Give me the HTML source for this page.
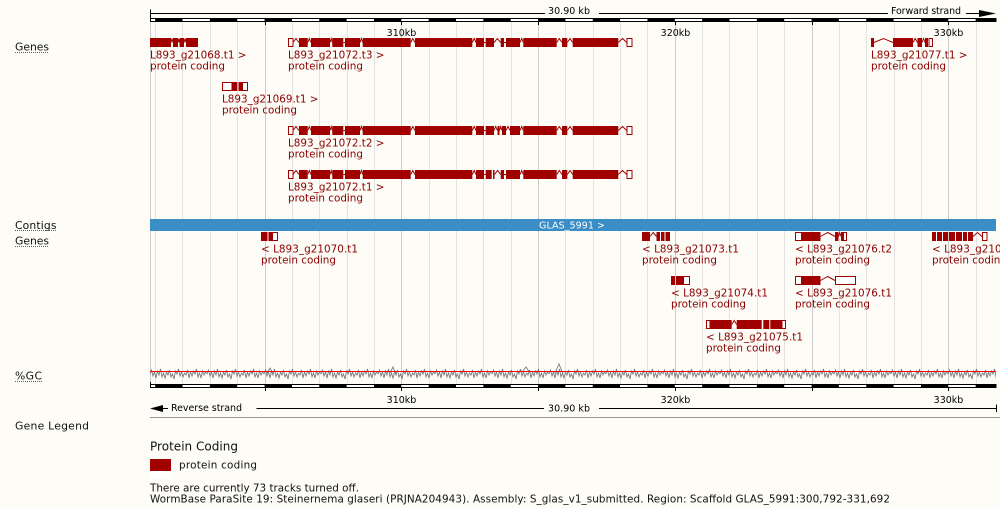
<!DOCTYPE html>
<html>
<head>
<meta charset="utf-8">
<style>
html,body{margin:0;padding:0;background:#fdfcf7;width:1000px;height:508px;overflow:hidden}
svg{display:block}
.lbl{font-family:"DejaVu Sans","Liberation Sans",sans-serif;font-size:10.8px;fill:#111}
.ru{font-family:"DejaVu Sans","Liberation Sans",sans-serif;font-size:9.5px;fill:#000}
.gl{font-family:"DejaVu Sans","Liberation Sans",sans-serif;font-size:10.4px;fill:#8a0000}
.tx{font-family:"DejaVu Sans","Liberation Sans",sans-serif;font-size:10.4px;fill:#111}
</style>
</head>
<body>
<svg width="1000" height="508" viewBox="0 0 1000 508" xmlns="http://www.w3.org/2000/svg">
<defs>
<pattern id="gc" patternUnits="userSpaceOnUse" x="150" y="362" width="57" height="20">
<polyline points="0,12 1.5,8 3,14 4.5,10 6,16 7.5,9 9,13 10.5,7 12,15 13.5,11 15,16 16.5,10 18,13 19.5,8 21,15 22.5,12 24,17 25.5,9 27,12 28.5,7 30,14 31.5,10 33,15 34.5,11 36,13 37.5,8 39,16 40.5,10 42,14 43.5,9 45,12 46.5,7 48,15 49.5,11 51,16 52.5,9 54,13 55.5,10 57,12" fill="none" stroke="#7a7a7a" stroke-width="0.9"/>
</pattern>
</defs>
<rect x="0" y="0" width="1000" height="508" fill="#fdfcf7"/>

<!-- gridlines -->
<path d="M155.5,22V384M182.5,22V384M210.5,22V384M237.5,22V384M292.5,22V384M319.5,22V384M347.5,22V384M374.5,22V384M429.5,22V384M456.5,22V384M483.5,22V384M511.5,22V384M565.5,22V384M593.5,22V384M620.5,22V384M647.5,22V384M702.5,22V384M729.5,22V384M757.5,22V384M784.5,22V384M839.5,22V384M866.5,22V384M894.5,22V384M921.5,22V384M976.5,22V384" stroke="#e3e3e3" stroke-width="1" fill="none"/>
<path d="M150.5,22V384M265.5,22V384M401.5,22V384M538.5,22V384M675.5,22V384M812.5,22V384M948.5,22V384" stroke="#cbcbcb" stroke-width="1" fill="none"/>

<!-- top scale -->
<g stroke="#000" stroke-width="1" fill="none">
<path d="M150,13.5H545M599,13.5H888M966,13.5H980"/>
<path d="M150.5,9.5V22"/>
</g>
<polygon points="979,10 996,13.5 979,17" fill="#000"/>
<text class="ru" x="548" y="14" textLength="42">30.90 kb</text>
<text class="ru" x="891" y="14" textLength="70">Forward strand</text>

<!-- top ruler band -->
<rect x="150.5" y="18.5" width="845.5" height="3" fill="#fff" stroke="#000" stroke-width="1"/>
<g fill="#000">
<rect x="155.15" y="18" width="27.35" height="4"/>
<rect x="209.85" y="18" width="27.35" height="4"/>
<rect x="264.55" y="18" width="27.35" height="4"/>
<rect x="319.25" y="18" width="27.35" height="4"/>
<rect x="373.95" y="18" width="27.35" height="4"/>
<rect x="428.65" y="18" width="27.35" height="4"/>
<rect x="483.35" y="18" width="27.35" height="4"/>
<rect x="538.05" y="18" width="27.35" height="4"/>
<rect x="592.75" y="18" width="27.35" height="4"/>
<rect x="647.45" y="18" width="27.35" height="4"/>
<rect x="702.15" y="18" width="27.35" height="4"/>
<rect x="756.85" y="18" width="27.35" height="4"/>
<rect x="811.55" y="18" width="27.35" height="4"/>
<rect x="866.25" y="18" width="27.35" height="4"/>
<rect x="920.95" y="18" width="27.35" height="4"/>
<rect x="975.65" y="18" width="20.35" height="4"/>
</g>
<path d="M265.5,22V25M401.5,22V25M538.5,22V25M675.5,22V25M812.5,22V25M948.5,22V25" stroke="#000"/>
<text class="ru" x="401.5" y="36" text-anchor="middle">310kb</text>
<text class="ru" x="675.5" y="36" text-anchor="middle">320kb</text>
<text class="ru" x="948.5" y="36" text-anchor="middle">330kb</text>

<!-- left labels -->
<text class="lbl" x="15" y="50.6" textLength="34">Genes</text>
<text class="lbl" x="15" y="228.9" textLength="41.5">Contigs</text>
<text class="lbl" x="15" y="244.6" textLength="34">Genes</text>
<text class="lbl" x="15" y="379.5" textLength="27">%GC</text>
<text class="lbl" x="15" y="429.6" textLength="74">Gene Legend</text>
<path d="M15,52.5H49M15,230.5H57M15,246.5H49M15,381.5H42" stroke="#3366bb" stroke-width="1" stroke-dasharray="1,1" fill="none"/>

<!-- forward genes -->
<g fill="#a00000">
<rect x="150" y="38" width="21" height="9"/>
<rect x="173" y="38" width="5" height="9"/>
<rect x="179.5" y="38" width="4.5" height="9"/>
<rect x="186" y="38" width="12" height="9"/>
<rect x="871" y="38" width="3" height="9"/>
<rect x="893" y="38" width="20" height="9"/>
<rect x="917.5" y="38" width="4.5" height="9"/>
<rect x="925" y="38" width="3" height="9"/>
<rect x="232.3" y="82" width="5" height="9"/>
<rect x="238.5" y="82" width="3.7" height="9"/>
</g>
<g fill="#fff" stroke="#a00000" stroke-width="1">
<rect x="929" y="38.5" width="3.5" height="8"/>
<rect x="222.5" y="82.5" width="9.5" height="8"/>
<rect x="242.5" y="82.5" width="5" height="8"/>
</g>
<path d="M171,42.5L172,38.5L173,42.5M178,42.5L178.7,39L179.5,42.5M184,42.5L185,38.5L186,42.5M874,42.5L883.5,38.5L893,42.5M913,42.5L915.2,38.5L917.5,42.5M922,42.5L923.5,38.5L925,42.5" stroke="#a00000" stroke-width="1" fill="none"/>

<!-- g21072 transcripts -->
<g>
<g fill="#a00000">
<rect x="299" y="38" width="8.7" height="9"/>
<rect x="311" y="38" width="19" height="9"/>
<rect x="332.3" y="38" width="11" height="9"/>
<rect x="345" y="38" width="15" height="9"/>
<rect x="362.7" y="38" width="48" height="9"/>
<rect x="415" y="38" width="57.3" height="9"/>
<rect x="476" y="38" width="8" height="9"/>
<rect x="485.7" y="38" width="8.3" height="9"/>
<rect x="500.7" y="38" width="3.3" height="9"/>
<rect x="506" y="38" width="14" height="9"/>
<rect x="523.3" y="38" width="33.4" height="9"/>
<rect x="562" y="38" width="5.3" height="9"/>
<rect x="572.7" y="38" width="45.6" height="9"/>
</g>
<rect x="288.5" y="38.5" width="4.5" height="8" fill="#fff" stroke="#a00000"/>
<rect x="627" y="38.5" width="5" height="8" fill="#fff" stroke="#a00000"/>
<path d="M293,42.5L296,38.5L299,42.5M307.7,42.5L309.3,38.5L311,42.5M330,42.5L331.2,38.5L332.3,42.5M343.3,42.5L345,42.5M360,42.5L361.3,38.5L362.7,42.5M410.7,42.5L412.8,38.5L415,42.5M472.3,42.5L474.2,38.5L476,42.5M484,42.5L485.7,42.5M494,42.5L497.3,38.5L500.7,42.5M504,42.5L506,42.5M520,42.5L521.7,38.5L523.3,42.5M556.7,42.5L559.3,38.5L562,42.5M567.3,42.5L570,38.5L572.7,42.5M618.3,42.5L622.5,38.5L626.7,42.5" stroke="#a00000" stroke-width="1" fill="none"/>
</g>
<g transform="translate(0,88)">
<g fill="#a00000">
<rect x="299" y="38" width="8.7" height="9"/>
<rect x="311" y="38" width="19" height="9"/>
<rect x="332.3" y="38" width="11" height="9"/>
<rect x="345" y="38" width="15" height="9"/>
<rect x="362.7" y="38" width="48" height="9"/>
<rect x="415" y="38" width="57.3" height="9"/>
<rect x="476" y="38" width="8" height="9"/>
<rect x="485.7" y="38" width="8.3" height="9"/>
<rect x="497.5" y="38" width="2" height="9"/>
<rect x="502" y="38" width="4" height="9"/>
<rect x="510" y="38" width="10" height="9"/>
<rect x="523.3" y="38" width="33.4" height="9"/>
<rect x="562" y="38" width="5.3" height="9"/>
<rect x="572.7" y="38" width="45.6" height="9"/>
</g>
<rect x="288.5" y="38.5" width="4.5" height="8" fill="#fff" stroke="#a00000"/>
<rect x="627" y="38.5" width="5" height="8" fill="#fff" stroke="#a00000"/>
<path d="M293,42.5L296,38.5L299,42.5M307.7,42.5L309.3,38.5L311,42.5M330,42.5L331.2,38.5L332.3,42.5M343.3,42.5L345,42.5M360,42.5L361.3,38.5L362.7,42.5M410.7,42.5L412.8,38.5L415,42.5M472.3,42.5L474.2,38.5L476,42.5M484,42.5L485.7,42.5M494,42.5L495.7,38.5L497.5,42.5M499.5,42.5L500.7,38.5L502,42.5M506,42.5L508,38.5L510,42.5M520,42.5L521.7,38.5L523.3,42.5M556.7,42.5L559.3,38.5L562,42.5M567.3,42.5L570,38.5L572.7,42.5M618.3,42.5L622.5,38.5L626.7,42.5" stroke="#a00000" stroke-width="1" fill="none"/>
</g>
<g transform="translate(0,132)">
<g fill="#a00000">
<rect x="299" y="38" width="8.7" height="9"/>
<rect x="311" y="38" width="19" height="9"/>
<rect x="332.3" y="38" width="11" height="9"/>
<rect x="345" y="38" width="15" height="9"/>
<rect x="362.7" y="38" width="48" height="9"/>
<rect x="415" y="38" width="57.3" height="9"/>
<rect x="476" y="38" width="8" height="9"/>
<rect x="485.7" y="38" width="6" height="9"/>
<rect x="493" y="38" width="1.5" height="9"/>
<rect x="500.7" y="38" width="3.3" height="9"/>
<rect x="506" y="38" width="14" height="9"/>
<rect x="523.3" y="38" width="33.4" height="9"/>
<rect x="562" y="38" width="5.3" height="9"/>
<rect x="572.7" y="38" width="45.6" height="9"/>
</g>
<rect x="288.5" y="38.5" width="4.5" height="8" fill="#fff" stroke="#a00000"/>
<rect x="627" y="38.5" width="5" height="8" fill="#fff" stroke="#a00000"/>
<path d="M293,42.5L296,38.5L299,42.5M307.7,42.5L309.3,38.5L311,42.5M330,42.5L331.2,38.5L332.3,42.5M343.3,42.5L345,42.5M360,42.5L361.3,38.5L362.7,42.5M410.7,42.5L412.8,38.5L415,42.5M472.3,42.5L474.2,38.5L476,42.5M484,42.5L485.7,42.5M494.5,42.5L497.6,38.5L500.7,42.5M504,42.5L506,42.5M520,42.5L521.7,38.5L523.3,42.5M556.7,42.5L559.3,38.5L562,42.5M567.3,42.5L570,38.5L572.7,42.5M618.3,42.5L622.5,38.5L626.7,42.5" stroke="#a00000" stroke-width="1" fill="none"/>
</g>

<!-- forward labels -->
<text class="gl" x="150" y="58.3" textLength="96.5">L893_g21068.t1 &gt;</text>
<text class="gl" x="150" y="69.3" textLength="75">protein coding</text>
<text class="gl" x="288" y="58.3" textLength="96.5">L893_g21072.t3 &gt;</text>
<text class="gl" x="288" y="69.3" textLength="75">protein coding</text>
<text class="gl" x="871" y="58.3" textLength="96.5">L893_g21077.t1 &gt;</text>
<text class="gl" x="871" y="69.3" textLength="75">protein coding</text>
<text class="gl" x="222" y="102.3" textLength="96.5">L893_g21069.t1 &gt;</text>
<text class="gl" x="222" y="113.3" textLength="75">protein coding</text>
<text class="gl" x="288" y="146.3" textLength="96.5">L893_g21072.t2 &gt;</text>
<text class="gl" x="288" y="157.3" textLength="75">protein coding</text>
<text class="gl" x="288" y="190.3" textLength="96.5">L893_g21072.t1 &gt;</text>
<text class="gl" x="288" y="201.3" textLength="75">protein coding</text>

<!-- contig -->
<rect x="150" y="219" width="846" height="12" fill="#3a8dc5"/>
<text class="ru" x="572" y="228.3" text-anchor="middle" style="fill:#fff" textLength="66">GLAS_5991 &gt;</text>

<!-- reverse genes -->
<g fill="#a00000">
<rect x="261" y="232" width="6.5" height="9"/>
<rect x="268.5" y="232" width="3.5" height="9"/>
<rect x="642" y="232" width="8" height="9"/>
<rect x="656.5" y="232" width="3.5" height="9"/>
<rect x="661" y="232" width="3.5" height="9"/>
<rect x="665.5" y="232" width="4.5" height="9"/>
<rect x="801.5" y="232" width="19" height="9"/>
<rect x="835" y="232" width="3.5" height="9"/>
<rect x="841" y="232" width="2" height="9"/>
<rect x="932" y="232" width="4" height="9"/>
<rect x="937" y="232" width="5" height="9"/>
<rect x="943" y="232" width="5" height="9"/>
<rect x="949" y="232" width="6" height="9"/>
<rect x="956" y="232" width="6" height="9"/>
<rect x="963" y="232" width="4" height="9"/>
<rect x="968" y="232" width="5" height="9"/>
<rect x="671" y="276" width="4" height="9"/>
<rect x="676" y="276" width="7" height="9"/>
<rect x="801.5" y="276" width="19" height="9"/>
<rect x="710" y="320" width="21.7" height="9"/>
<rect x="736.7" y="320" width="25" height="9"/>
<rect x="763.3" y="320" width="6" height="9"/>
<rect x="770.3" y="320" width="11.4" height="9"/>
</g>
<g fill="#fff" stroke="#a00000" stroke-width="1">
<rect x="272.5" y="232.5" width="5" height="8"/>
<rect x="795.5" y="232.5" width="6" height="8"/>
<rect x="843.5" y="232.5" width="3" height="8"/>
<rect x="982.5" y="232.5" width="4.5" height="8"/>
<rect x="683.5" y="276.5" width="6" height="8"/>
<rect x="795.5" y="276.5" width="6" height="8"/>
<rect x="835.5" y="276.5" width="20" height="8"/>
<rect x="706.5" y="320.5" width="3.5" height="8"/>
<rect x="782" y="320.5" width="3.5" height="8"/>
</g>
<path d="M650,236.5L653.2,232.5L656.5,236.5M820.5,236.5L827.7,232.5L835,236.5M838.5,236.5L839.7,232.5L841,236.5M973,236.5L977.5,232.5L982,236.5M820.5,280.5L827.7,276.5L835,280.5M731.7,324.5L734.2,320.5L736.7,324.5" stroke="#a00000" stroke-width="1" fill="none"/>

<!-- reverse labels -->
<text class="gl" x="261" y="252.3" textLength="97">&lt; L893_g21070.t1</text>
<text class="gl" x="261" y="263.3" textLength="75">protein coding</text>
<text class="gl" x="642" y="252.3" textLength="97">&lt; L893_g21073.t1</text>
<text class="gl" x="642" y="263.3" textLength="75">protein coding</text>
<text class="gl" x="795" y="252.3" textLength="97">&lt; L893_g21076.t2</text>
<text class="gl" x="795" y="263.3" textLength="75">protein coding</text>
<text class="gl" x="932" y="252.3" textLength="97">&lt; L893_g21078.t1</text>
<text class="gl" x="932" y="263.3" textLength="75">protein coding</text>
<text class="gl" x="671" y="296.3" textLength="97">&lt; L893_g21074.t1</text>
<text class="gl" x="671" y="307.3" textLength="75">protein coding</text>
<text class="gl" x="795" y="296.3" textLength="97">&lt; L893_g21076.t1</text>
<text class="gl" x="795" y="307.3" textLength="75">protein coding</text>
<text class="gl" x="706" y="340.3" textLength="97">&lt; L893_g21075.t1</text>
<text class="gl" x="706" y="351.3" textLength="75">protein coding</text>

<!-- GC track -->
<rect x="150" y="362" width="846" height="20" fill="url(#gc)"/>
<path d="M522,372L526,367L530,373M555,373L559,364L563,374M267,373L270,368L273,374M390,373L393,367L396,374" stroke="#7a7a7a" stroke-width="0.9" fill="none"/>
<path d="M150,371.5H996" stroke="#ff0000" stroke-width="1"/>

<!-- bottom ruler band -->
<rect x="150.5" y="384.5" width="845.5" height="3" fill="#fff" stroke="#000" stroke-width="1"/>
<g fill="#000">
<rect x="155.15" y="384" width="27.35" height="4"/>
<rect x="209.85" y="384" width="27.35" height="4"/>
<rect x="264.55" y="384" width="27.35" height="4"/>
<rect x="319.25" y="384" width="27.35" height="4"/>
<rect x="373.95" y="384" width="27.35" height="4"/>
<rect x="428.65" y="384" width="27.35" height="4"/>
<rect x="483.35" y="384" width="27.35" height="4"/>
<rect x="538.05" y="384" width="27.35" height="4"/>
<rect x="592.75" y="384" width="27.35" height="4"/>
<rect x="647.45" y="384" width="27.35" height="4"/>
<rect x="702.15" y="384" width="27.35" height="4"/>
<rect x="756.85" y="384" width="27.35" height="4"/>
<rect x="811.55" y="384" width="27.35" height="4"/>
<rect x="866.25" y="384" width="27.35" height="4"/>
<rect x="920.95" y="384" width="27.35" height="4"/>
<rect x="975.65" y="384" width="20.35" height="4"/>
</g>
<path d="M150.5,382V388M265.5,388V391M401.5,388V391M538.5,388V391M675.5,388V391M812.5,388V391M948.5,388V391" stroke="#000"/>
<text class="ru" x="401.5" y="403" text-anchor="middle">310kb</text>
<text class="ru" x="675.5" y="403" text-anchor="middle">320kb</text>
<text class="ru" x="948.5" y="403" text-anchor="middle">330kb</text>

<!-- bottom scale -->
<polygon points="150,408.5 163,405 163,412" fill="#000"/>
<path d="M163,408.5H168M256.5,408.5H544M599,408.5H996.5M996.5,404.5V412" stroke="#000" stroke-width="1" fill="none"/>
<text class="ru" x="171" y="411" textLength="71">Reverse strand</text>
<text class="ru" x="548" y="411.5" textLength="42">30.90 kb</text>

<!-- separator -->
<path d="M150,417.5H1000" stroke="#999" stroke-width="1"/>

<!-- legend -->
<text x="150" y="450.5" style="font-family:'DejaVu Sans','Liberation Sans',sans-serif;font-size:12px;fill:#111" textLength="88">Protein Coding</text>
<rect x="150" y="459" width="21" height="12" fill="#a00000"/>
<rect x="150" y="471" width="23" height="7" fill="#ffffff"/>
<text class="tx" x="179" y="468.5" textLength="78">protein coding</text>
<text class="tx" x="150" y="491.5" textLength="209">There are currently 73 tracks turned off.</text>
<text class="tx" x="150" y="502.5" textLength="740">WormBase ParaSite 19: Steinernema glaseri (PRJNA204943). Assembly: S_glas_v1_submitted. Region: Scaffold GLAS_5991:300,792-331,692</text>
</svg>
</body>
</html>
